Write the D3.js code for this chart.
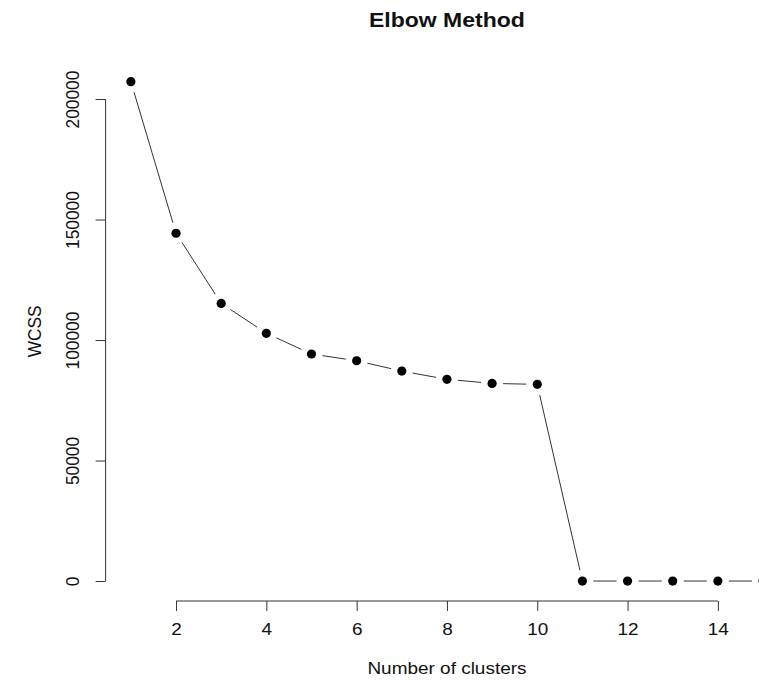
<!DOCTYPE html>
<html>
<head>
<meta charset="utf-8">
<script src="https://cdn.jsdelivr.net/npm/d3@7"></script>
<style>
  html, body { margin: 0; padding: 0; background: #fff; }
  svg { display: block; font-family: "Liberation Sans", Arial, Helvetica, sans-serif; }
</style>
</head>
<body>
<div id="chart"></div>
<script>
// ---- data ----
const clusters = [1, 2, 3, 4, 5, 6, 7, 8, 9, 10, 11, 12, 13, 14, 15];
const wcss = [207200, 144300, 115200, 102800, 94200, 91400, 87100, 83700, 82000, 81600, 0, 0, 0, 0, 0];
const xTicks = [2, 4, 6, 8, 10, 12, 14];
const yTicks = [0, 50000, 100000, 150000, 200000];
const titleText = "Elbow Method";
const xLabel = "Number of clusters";
const yLabel = "WCSS";

// ---- layout ----
const W = 759, H = 688;
const plotLeft = 105.6, plotRight = 788.3, plotTop = 61.7, plotBottom = 601;
const stretch = 1.15; // horizontal text stretch seen in the reference

const svg = d3.select("#chart").append("svg").attr("width", W).attr("height", H);

// R-style 4% padding on the data range
const xr = d3.extent(clusters), yr = d3.extent(wcss);
const xp = (xr[1] - xr[0]) * 0.04, yp = (yr[1] - yr[0]) * 0.04;
const x = d3.scaleLinear().domain([xr[0] - xp, xr[1] + xp]).range([plotLeft, plotRight]);
const y = d3.scaleLinear().domain([yr[0] - yp, yr[1] + yp]).range([plotBottom, plotTop]);

const axisColor = "#333";
const tickLen = 10;
const fontSize = 16.5;

// x axis
const xAxis = svg.append("g").attr("transform", `translate(0,${plotBottom})`)
  .call(d3.axisBottom(x).tickValues(xTicks).tickSize(tickLen).tickPadding(12).tickSizeOuter(0));
xAxis.select(".domain").remove();
xAxis.append("line")
  .attr("x1", x(xTicks[0])).attr("x2", x(xTicks[xTicks.length - 1]))
  .attr("y1", 0).attr("y2", 0).attr("stroke", axisColor).attr("stroke-width", 1);
xAxis.selectAll(".tick line").attr("stroke", axisColor);
xAxis.selectAll(".tick text").attr("font-size", fontSize).attr("fill", "#111")
  .attr("font-family", "'Liberation Sans', Arial, sans-serif")
  .attr("transform", `scale(${stretch},1)`);

// y axis
const yAxis = svg.append("g").attr("transform", `translate(${plotLeft},0)`)
  .call(d3.axisLeft(y).tickValues(yTicks).tickSize(tickLen).tickFormat(d3.format("d")));
yAxis.select(".domain").remove();
yAxis.append("line")
  .attr("x1", 0).attr("x2", 0)
  .attr("y1", y(yTicks[0])).attr("y2", y(yTicks[yTicks.length - 1]))
  .attr("stroke", axisColor).attr("stroke-width", 1);
yAxis.selectAll(".tick line").attr("stroke", axisColor);
yAxis.selectAll(".tick text")
  .attr("font-size", fontSize).attr("fill", "#111")
  .attr("font-family", "'Liberation Sans', Arial, sans-serif")
  .attr("x", null).attr("dy", null)
  .attr("text-anchor", "middle")
  .attr("transform", `translate(${-27},0) rotate(-90) scale(1.05,1.1)`);

// connecting segments with gaps (R type = "b")
const gap = 11;
const segs = [];
for (let i = 0; i < clusters.length - 1; i++) {
  const x1 = x(clusters[i]), y1 = y(wcss[i]), x2 = x(clusters[i + 1]), y2 = y(wcss[i + 1]);
  const dx = x2 - x1, dy = y2 - y1, len = Math.hypot(dx, dy);
  if (len > 2 * gap) {
    const ux = dx / len, uy = dy / len;
    segs.push([x1 + ux * gap, y1 + uy * gap, x2 - ux * gap, y2 - uy * gap]);
  }
}
svg.append("g").selectAll("line").data(segs).join("line")
  .attr("x1", d => d[0]).attr("y1", d => d[1])
  .attr("x2", d => d[2]).attr("y2", d => d[3])
  .attr("stroke", "#333").attr("stroke-width", 1);

// points
svg.append("g").selectAll("circle").data(clusters).join("circle")
  .attr("cx", d => x(d)).attr("cy", (d, i) => y(wcss[i]))
  .attr("r", 4.6).attr("fill", "#000");

const cx = (plotLeft + plotRight) / 2;

// title
svg.append("text").attr("transform", `translate(${cx},27) scale(${stretch},1)`)
  .attr("text-anchor", "middle").attr("font-weight", "bold").attr("font-size", 20)
  .attr("fill", "#111")
  .text(titleText);

// x label
svg.append("text").attr("transform", `translate(${cx},674) scale(${stretch},1)`)
  .attr("text-anchor", "middle").attr("font-size", fontSize).attr("fill", "#111")
  .text(xLabel);

// y label
svg.append("text").attr("transform", `translate(41,${(plotTop + plotBottom) / 2}) rotate(-90) scale(1.05,1.1)`)
  .attr("text-anchor", "middle").attr("font-size", fontSize).attr("fill", "#111")
  .text(yLabel);
</script>
</body>
</html>
